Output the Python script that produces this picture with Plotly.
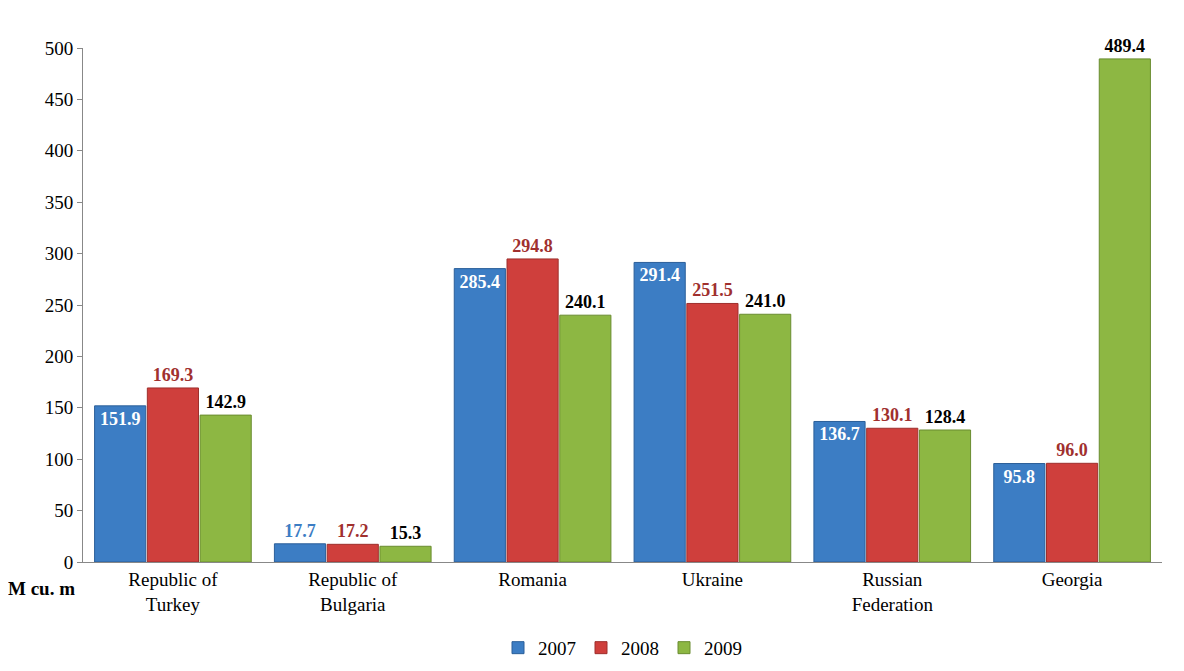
import plotly.graph_objects as go

categories = ["Republic of<br>Turkey", "Republic of<br>Bulgaria", "Romania", "Ukraine",
              "Russian<br>Federation", "Georgia"]
years = ["2007", "2008", "2009"]
v2007 = [151.9, 17.7, 285.4, 291.4, 136.7, 95.8]
v2008 = [169.3, 17.2, 294.8, 251.5, 130.1, 96.0]
v2009 = [142.9, 15.3, 240.1, 241.0, 128.4, 489.4]
y_ticks = [0, 50, 100, 150, 200, 250, 300, 350, 400, 450, 500]

colors = ["#3C7DC4", "#CF3F3C", "#8DB743"]
line_colors = ["#2B5F99", "#9E2F2C", "#6A8C30"]
label_colors = ["white", "#A0302E", "black"]

font_family = "Liberation Serif, Times New Roman, serif"

fig = go.Figure()
for i, (yr, vals) in enumerate(zip(years, [v2007, v2008, v2009])):
    if i == 0:
        pos = ["inside" if v > 40 else "outside" for v in vals]
        tcol = ["white" if v > 40 else colors[0] for v in vals]
    else:
        pos = ["outside"] * len(vals)
        tcol = [label_colors[i]] * len(vals)
    fig.add_trace(go.Bar(
        name=yr, x=categories, y=vals,
        marker=dict(color=colors[i], line=dict(color=line_colors[i], width=1)),
        text=[f"{v:.1f}" for v in vals],
        textposition=pos,
        textangle=0,
        insidetextanchor="end",
        textfont=dict(family=font_family, size=18, color=tcol),
        cliponaxis=False,
    ))

fig.update_layout(
    width=1184, height=671,
    barmode="group", bargap=0.12, bargroupgap=0.03,
    plot_bgcolor="white", paper_bgcolor="white",
    font=dict(family=font_family, size=19, color="black"),
    margin=dict(l=75, r=30, t=40, b=95),
    uniformtext=dict(minsize=10, mode="show"),
    legend=dict(orientation="h", x=0.5, xanchor="center", y=-0.13, yanchor="top",
                font=dict(size=19, family=font_family), traceorder="normal"),
    xaxis=dict(showline=True, linecolor="#888888", tickfont=dict(size=19)),
    yaxis=dict(range=[0, 500], tickvals=y_ticks, showgrid=False,
               showline=True, linecolor="#888888", ticks="outside", tickcolor="#888888",
               tickfont=dict(size=19)),
    annotations=[dict(text="<b>M cu. m</b>", xref="paper", yref="paper", x=0, y=0,
                      xanchor="right", yanchor="top", xshift=-6, yshift=-14,
                      showarrow=False, font=dict(size=19, family=font_family))],
)
fig.update_traces(texttemplate="<b>%{text}</b>")

fig.write_html("out.html")
